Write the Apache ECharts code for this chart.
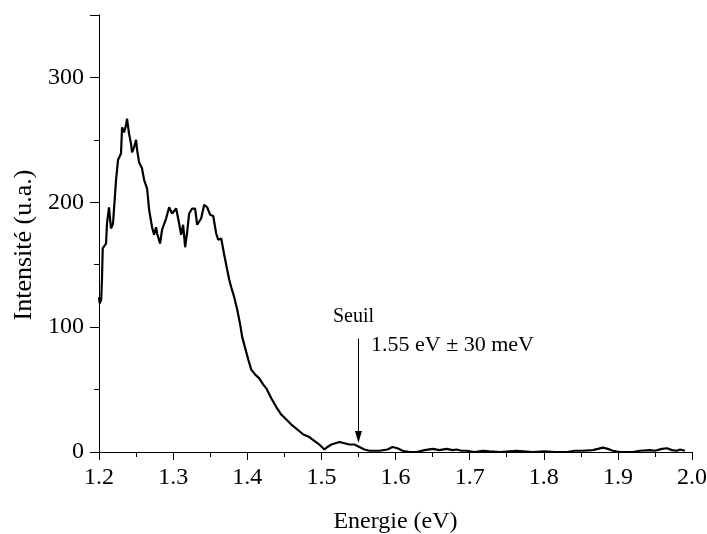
<!DOCTYPE html>
<html>
<head>
<meta charset="utf-8">
<script src="https://cdn.jsdelivr.net/npm/echarts@6/dist/echarts.min.js"></script>
<style>
  html, body { margin: 0; padding: 0; background: #fff; }
  #chart { width: 707px; height: 534px; }
</style>
</head>
<body>
<div id="chart"></div>
<script>
// energie (eV) et intensite (u.a.)
const energie = [
  1.200, 1.201, 1.203, 1.204, 1.205, 1.2095, 1.2108, 1.2135, 1.2162, 1.2189,
  1.2230, 1.2257, 1.2297, 1.2311, 1.2338, 1.2365, 1.2378, 1.2405, 1.2432, 1.2446,
  1.2473, 1.2500, 1.2514, 1.2541, 1.2581, 1.2608, 1.2649, 1.2676, 1.2716, 1.2743,
  1.2770, 1.2784, 1.2824, 1.2851, 1.2905, 1.2946, 1.2986, 1.3041, 1.3081, 1.3108,
  1.3135, 1.3162, 1.3189, 1.3216, 1.3257, 1.3297, 1.3324, 1.3378, 1.3419, 1.3459,
  1.3500, 1.3541, 1.3581, 1.3608, 1.3649, 1.3689, 1.3716, 1.3757, 1.3784, 1.3824,
  1.3865, 1.3905, 1.3932, 1.3973, 1.4014, 1.4054, 1.4108, 1.4162, 1.4216, 1.4257,
  1.4324, 1.4392, 1.4459, 1.4527, 1.4595, 1.4676, 1.4757, 1.4838, 1.4905, 1.4973,
  1.5041, 1.5081, 1.5135, 1.5189, 1.5243, 1.5311, 1.5378, 1.5446, 1.5514, 1.5581,
  1.5649, 1.5784, 1.5892, 1.5959, 1.6027, 1.6095, 1.6189, 1.6284, 1.6392, 1.6500,
  1.6595, 1.6689, 1.6770, 1.6824, 1.6892, 1.6959, 1.7068, 1.7176, 1.7270, 1.7405,
  1.7635, 1.7851, 1.8014, 1.8149, 1.8311, 1.8419, 1.8527, 1.8662, 1.8730, 1.8797,
  1.8865, 1.8932, 1.9027, 1.9203, 1.9297, 1.9432, 1.9500, 1.9595, 1.9662, 1.9730,
  1.9797, 1.9838, 1.9905
]
const intensite = [
  124, 119, 122, 138, 163, 167, 183, 196, 179, 183,
  218, 234, 239, 260, 256, 262, 267, 255, 247, 240,
  244, 250, 242, 232, 227, 218, 211, 194, 180, 174,
  180, 175, 167, 178, 187, 196, 191, 195, 183, 174,
  182, 164, 176, 191, 195, 195, 182, 187, 198, 196,
  190, 189, 175, 170, 171, 158, 150, 138, 132, 124,
  114, 102, 92, 83, 74, 66, 62, 59, 54, 51,
  43, 36, 30, 26, 22, 18, 14, 12, 9, 6,
  2, 4, 6, 7, 8, 7, 6, 6, 4, 2,
  1, 1, 2, 4, 3, 1, 0, 0, 1.5, 2.5,
  1.5, 2.5, 1.5, 2, 1, 1, 0, 1, 0.5, 0,
  1, 0, 0.5, 0, 0, 1, 1, 1.5, 2.5, 3.5,
  2.5, 1, 0, 0, 1, 1.5, 1, 2.5, 3, 1.5,
  1, 2, 1
]
// fleche du seuil
const seuil = 1.55
const flecheHaut = 91
const flecheBas = 12

const police = '"Liberation Serif", "DejaVu Serif", serif'

let chart = echarts.init(document.getElementById('chart'))
let serie = energie.map((e, i) => [e, intensite[i]])

let option = {
  animation: false,
  backgroundColor: '#fff',
  textStyle: { fontFamily: police, color: '#000' },
  grid: { left: 99, right: 15, top: 15, bottom: 82, containLabel: false, outerBoundsMode: 'none' },
  xAxis: {
    type: 'value',
    min: 1.2,
    max: 2.0,
    interval: 0.1,
    name: 'Energie (eV)',
    nameLocation: 'middle',
    nameGap: 58,
    nameTextStyle: { fontFamily: police, fontSize: 24, color: '#000' },
    axisLine: { show: true, onZero: false, lineStyle: { color: '#000', width: 1 } },
    axisTick: { show: true, inside: false, length: 8, lineStyle: { color: '#000' } },
    minorTick: { show: true, splitNumber: 2, length: 5, lineStyle: { color: '#000' } },
    splitLine: { show: false },
    axisLabel: {
      margin: 14,
      fontFamily: police, fontSize: 24, color: '#000',
      formatter: v => v.toFixed(1)
    }
  },
  yAxis: [
    {
      type: 'value',
      min: 0,
      max: 350,
      interval: 100,
      axisLine: { show: true, onZero: false, lineStyle: { color: '#000', width: 1 } },
      axisTick: { show: true, inside: false, length: 9, lineStyle: { color: '#000' } },
      splitLine: { show: false },
      axisLabel: {
        margin: 15,
        fontFamily: police, fontSize: 24, color: '#000',
        formatter: v => (v % 100 === 0 ? String(v) : '')
      }
    },
    {
      // petites graduations tous les 50
      type: 'value',
      position: 'left',
      min: 0,
      max: 350,
      interval: 50,
      axisLine: { show: false },
      axisTick: { show: true, inside: false, length: 5, lineStyle: { color: '#000' } },
      splitLine: { show: false },
      axisLabel: { show: false }
    }
  ],
  graphic: [
    {
      type: 'text', x: 24, y: 245, rotation: Math.PI / 2,
      style: { text: 'Intensité (u.a.)', font: '26px ' + police, fill: '#000', align: 'center', verticalAlign: 'middle' }
    },
    {
      type: 'text', x: 333, y: 317,
      style: { text: 'Seuil', font: '20px ' + police, fill: '#000', align: 'left', verticalAlign: 'middle' }
    },
    {
      type: 'text', x: 371, y: 345,
      style: { text: '1.55 eV ± 30 meV', font: '22px ' + police, fill: '#000', align: 'left', verticalAlign: 'middle' }
    }
  ],
  series: [
    {
      type: 'line',
      data: serie,
      showSymbol: false,
      symbol: 'none',
      lineStyle: { color: '#000', width: 2.2 },
      markLine: {
        silent: true,
        symbol: ['none', 'triangle'],
        symbolSize: [7, 12],
        label: { show: false },
        lineStyle: { color: '#000', width: 1, type: 'solid' },
        data: [[{ coord: [seuil, flecheHaut] }, { coord: [seuil, flecheBas] }]]
      }
    }
  ]
}
chart.setOption(option)
</script>
</body>
</html>
